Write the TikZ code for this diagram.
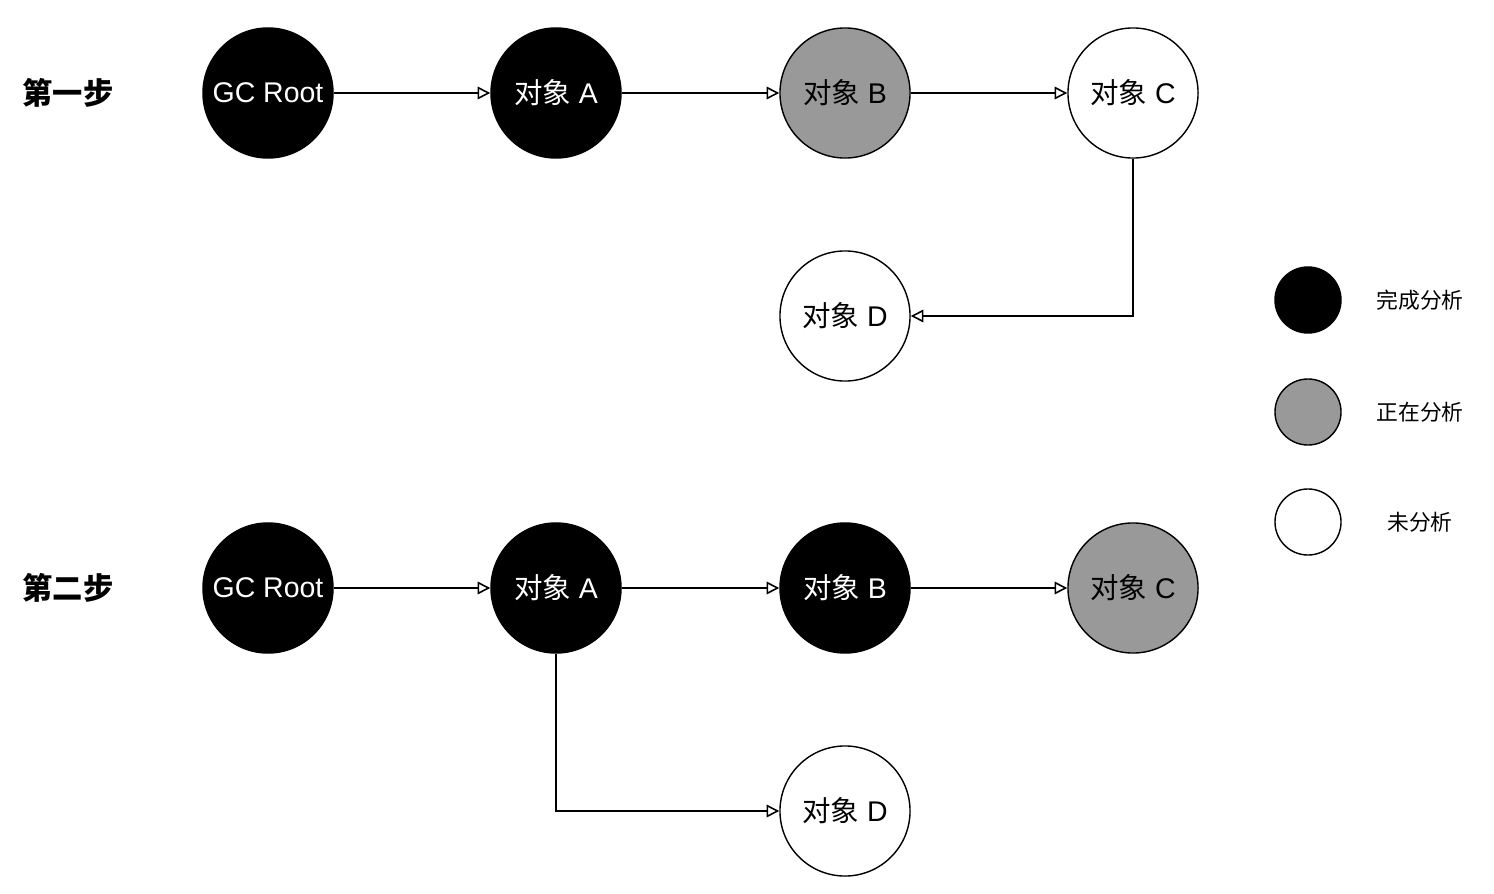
\documentclass[tikz,border=0pt]{standalone}
\usepackage{fontspec}
\setmainfont{Liberation Sans}
\newfontfamily\cjk{Noto Sans CJK SC}
\usetikzlibrary{arrows.meta}

\begin{document}
\begin{tikzpicture}[x=0.01cm, y=-0.01cm]
        \tikzstyle{obj_done}=[draw, circle, fill=black, text=white, minimum size=1.3cm, inner sep=0pt, font=\fontsize{8.1}{10}\selectfont];
        \tikzstyle{obj_busy}=[obj_done, fill=black!40, text=black];
        \tikzstyle{obj_todo}=[obj_done, fill=white, text=black];
        \tikzstyle{key_item}=[draw, circle, minimum size=0.66cm, inner sep=0pt];
        \tikzstyle{step_label}=[font=\fontsize{8.6}{10}\selectfont\cjk\bfseries];
        \tikzstyle{key_label}=[font=\fontsize{6.2}{7}\selectfont\cjk];
        \tikzstyle{myedge}=[line width=0.45pt, -{Triangle[open, length=3.6pt, width=3.6pt]}];
        \useasboundingbox (0,0) rectangle (1494,894);

        % step 1
        \node[step_label] (s1) at (68, 93) {第一步};
        \foreach \n/\x/\st/\t in {root/268/obj_done/GC Root, a/556/obj_done/{\cjk 对象} A, b/845/obj_busy/{\cjk 对象} B, c/1133/obj_todo/{\cjk 对象} C}{
          \node[\st] (\n1) at (\x, 93) {\t};
        }
        \node[obj_todo] (d1) at (845, 316) {{\cjk 对象} D};
        \draw[myedge] (root1) -- (a1);
        \draw[myedge] (a1) -- (b1);
        \draw[myedge] (b1) -- (c1);
        \draw[myedge] (c1) |- (d1);

        % step 2
        \node[step_label] (s2) at (68, 588) {第二步};
        \foreach \n/\x/\st/\t in {root/268/obj_done/GC Root, a/556/obj_done/{\cjk 对象} A, b/845/obj_done/{\cjk 对象} B, c/1133/obj_busy/{\cjk 对象} C}{
          \node[\st] (\n2) at (\x, 588) {\t};
        }
        \node[obj_todo] (d2) at (845, 811) {{\cjk 对象} D};
        \draw[myedge] (root2) -- (a2);
        \draw[myedge] (a2) -- (b2);
        \draw[myedge] (b2) -- (c2);
        \draw[myedge] (a2) |- (d2);

        % legend
        \foreach \k/\y/\f/\t in {done/300/black/完成分析, busy/412/black!40/正在分析, todo/522/white/未分析}{
          \node[key_item, fill=\f] (k\k) at (1308, \y) {};
          \node[key_label] (l\k) at (1420, \y) {\t};
        }
\end{tikzpicture}
\end{document}
